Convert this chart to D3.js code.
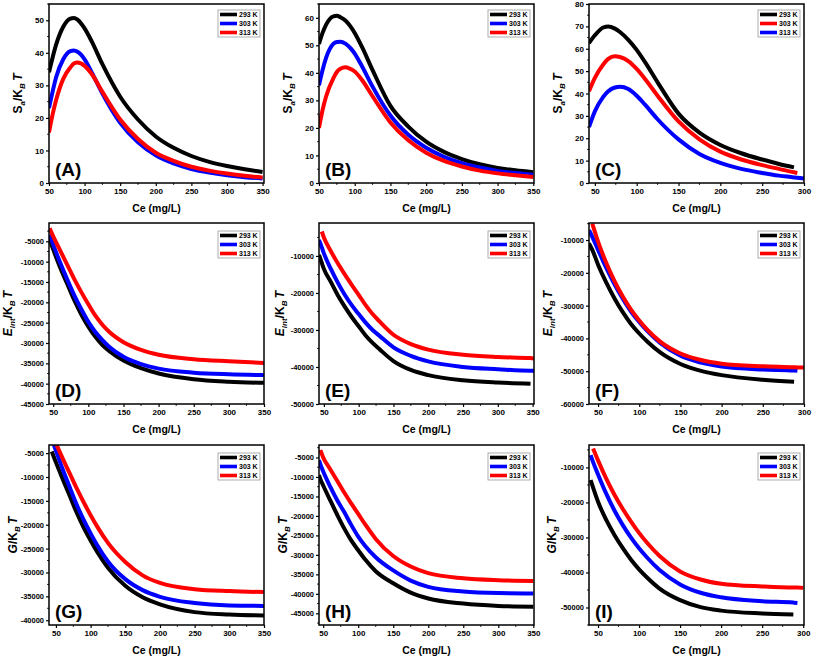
<!DOCTYPE html>
<html><head><meta charset="utf-8">
<script src="https://cdn.jsdelivr.net/npm/d3@7"></script>
<style>
body{margin:0;background:#fff;}
svg{display:block;font-family:"Liberation Sans",Arial,sans-serif;}
</style></head><body>
<svg id="chart" width="813" height="657"></svg>
<script>
// ---------------- DATA ----------------
const tempLabels = ["293 K", "303 K", "313 K"];

// Panel A  (S_a/K_BT)
const ceA = [50,55,60,70,80,85,90,100,110,125,150,175,200,225,250,275,300,325,350];
const A_293 = [34,38.5,42.5,48,50.5,50.7,50.2,47.5,43.5,36.5,26.5,19.5,14.3,10.8,8.3,6.5,5.2,4.2,3.4];
const A_303 = [23,28,32.5,38,40.5,40.7,40.3,38,34,27.5,18.5,12.5,8.5,6,4.3,3.2,2.4,1.8,1.4];
const A_313 = [15.5,21,25.5,32,35.5,36.7,37,36,33.5,28,19.5,13.5,9.3,6.8,5,3.8,2.9,2.2,1.7];

// Panel B
const ceB = [50,55,60,70,75,80,87,95,100,110,125,150,175,200,225,250,275,300,325,350];
const B_293 = [50.5,54.5,57.5,60.5,60.7,60.2,59,56.5,54.5,49.5,41,28,20.5,15,11.3,8.7,6.8,5.5,4.6,3.9];
const B_303 = [35.5,41,45.5,50.5,51.2,51.3,50.6,48.7,47,42.5,35,24.5,17.5,12.8,9.5,7.2,5.6,4.4,3.6,3];
const B_313 = [20,26.5,31.5,38,40.3,41.5,42,41.3,40.5,37.5,31.5,22,15.5,11,8,6,4.5,3.5,2.8,2.2];

// Panel C
const ceC = [43,50,60,66,74,80,90,100,110,125,150,175,200,225,250,270,288,292,300];
const C_293 = [62.5,66,69.5,70,69,67.5,64,59.5,54,45,31,22.5,17,13.3,10.5,8.5,7,null,null];
const C_303 = [41,47,53,55.5,56.7,56.3,54.5,51,46.5,39,27.5,19.5,14,10.5,8,6.3,4.8,4.5,null];
const C_313 = [25,32,38.5,41,42.7,43,42,39,35,28.5,19.5,13,9,6.3,4.5,3.3,2.5,2.3,2.0];

// Panel D  (E_int/K_BT)
const ceD = [45,50,60,70,80,90,100,110,120,130,150,175,200,250,300,350];
const D_293 = [-4500,-7000,-11500,-15500,-19500,-23000,-26000,-28500,-30500,-32000,-34300,-36200,-37500,-38900,-39500,-39800];
const D_303 = [-3300,-5800,-10300,-14400,-18300,-21700,-24800,-27300,-29300,-31000,-33400,-35200,-36300,-37300,-37700,-37900];
const D_313 = [-1800,-3800,-7300,-10800,-14300,-17500,-20500,-23300,-25500,-27300,-29800,-31700,-32900,-34000,-34500,-34900];

// Panel E
const ceE = [43,47,50,60,70,80,90,100,110,120,130,150,175,200,250,300,347,352];
const E_293 = [-9700,-11900,-13500,-17000,-20600,-23700,-26500,-29000,-31500,-33500,-35200,-38400,-40800,-42200,-43600,-44200,-44500,null];
const E_303 = [-5700,-7700,-9300,-13500,-17200,-20500,-23300,-25700,-28000,-30000,-31600,-34700,-37000,-38500,-40000,-40600,-41000,-41000];
const E_313 = [null,-3400,-5000,-8700,-12000,-15000,-17800,-20500,-23300,-25700,-27700,-31300,-33800,-35300,-36700,-37300,-37600,-37700];

// Panel F
const ceF = [39,43,50,60,70,80,90,100,110,125,150,175,200,250,288,292,300];
const F_293 = [-11000,-13000,-17500,-23000,-27800,-32000,-35600,-38500,-41000,-44200,-47800,-49900,-51200,-52600,-53200,null,null];
const F_303 = [-7000,-9000,-13000,-18500,-23500,-27900,-31800,-35000,-37800,-41300,-45300,-47400,-48600,-49500,-49800,-49900,null];
const F_313 = [null,-5000,-10500,-17000,-22500,-27200,-31200,-34500,-37400,-40900,-44600,-46600,-47700,-48500,-48800,-48850,-48900];

// Panel G  (G/K_BT)
const ceG = [44,47,51,60,70,80,90,100,110,125,150,175,200,250,300,350];
const G_293 = [-4650,-5800,-7300,-10500,-14000,-17500,-20600,-23300,-25800,-29000,-32800,-35200,-36700,-38300,-38800,-39000];
const G_303 = [null,-3300,-4900,-8500,-12200,-15800,-19000,-21800,-24400,-27700,-31400,-33700,-35100,-36400,-36900,-37000];
const G_313 = [null,null,-3300,-6200,-9300,-12400,-15300,-18000,-20500,-23800,-27800,-30600,-32200,-33500,-33900,-34100];

// Panel H
const ceH = [44,46,50,60,70,80,90,100,110,125,150,175,200,250,300,350];
const H_293 = [-9500,-10600,-12200,-16000,-19700,-23200,-26300,-28800,-31200,-34200,-37300,-39700,-41200,-42500,-43100,-43300];
const H_303 = [-5700,-6800,-8600,-12500,-16000,-19000,-22300,-25300,-27700,-30600,-34000,-36600,-38200,-39400,-39800,-39900];
const H_313 = [null,-3100,-5000,-8000,-11000,-14000,-16800,-19500,-22200,-25900,-30300,-33000,-34700,-36000,-36500,-36700];

// Panel I
const ceI = [41,44,50,60,70,80,90,100,110,125,150,175,200,250,288,293,300];
const I_293 = [-13600,-15800,-19800,-25000,-29300,-33000,-36300,-39100,-41500,-44600,-47900,-49900,-50900,-51700,-52000,null,null];
const I_303 = [-6500,-8500,-12000,-17500,-22300,-26400,-30000,-33100,-35800,-39300,-43400,-45800,-47100,-48200,-48600,-48700,null];
const I_313 = [null,-4600,-8000,-13200,-17800,-21800,-25400,-28700,-31600,-35300,-39700,-42000,-43200,-44000,-44300,-44300,-44400];

// Axis tick values
const xTicks350 = [50,100,150,200,250,300,350];
const xTicks300 = [50,100,150,200,250,300];
const yTicksA = [0,10,20,30,40,50];
const yTicksB = [0,10,20,30,40,50,60];
const yTicksC = [0,10,20,30,40,50,60,70,80];
const yTicksD = [-45000,-40000,-35000,-30000,-25000,-20000,-15000,-10000,-5000];
const yTicksE = [-50000,-40000,-30000,-20000,-10000];
const yTicksF = [-60000,-50000,-40000,-30000,-20000,-10000];
const yTicksG = [-40000,-35000,-30000,-25000,-20000,-15000,-10000,-5000];
const yTicksH = [-45000,-40000,-35000,-30000,-25000,-20000,-15000,-10000,-5000];
const yTicksI = [-50000,-40000,-30000,-20000,-10000];

// ---------------- LAYOUT ----------------
const BLACK = "#000000", BLUE = "#0000ff", RED = "#ff0000";
const colsX = [[49,264],[319,534],[589,804]];
const rowsY = [[4,183],[223,404],[445,625]];

const panels = [
  {tag:"(A)", ce:ceA, ys:[A_293,A_303,A_313], colors:[BLACK,BLUE,RED], xd:[50,352], yd:[0,55], xt:xTicks350, xm:25, yt:yTicksA, ym:5, ylab:"S", col:0, row:0, ylx:27},
  {tag:"(B)", ce:ceB, ys:[B_293,B_303,B_313], colors:[BLACK,BLUE,RED], xd:[50,351], yd:[0,65], xt:xTicks350, xm:25, yt:yTicksB, ym:5, ylab:"S", col:1, row:0, ylx:27},
  {tag:"(C)", ce:ceC, ys:[C_293,C_303,C_313], colors:[BLACK,RED,BLUE], xd:[43,300], yd:[0,80], xt:xTicks300, xm:25, yt:yTicksC, ym:5, ylab:"S", col:2, row:0, ylx:27},
  {tag:"(D)", ce:ceD, ys:[D_293,D_303,D_313], colors:[BLACK,BLUE,RED], xd:[44,350], yd:[-45000,-500], xt:xTicks350, xm:25, yt:yTicksD, ym:2500, ylab:"E", col:0, row:1, ylx:37},
  {tag:"(E)", ce:ceE, ys:[E_293,E_303,E_313], colors:[BLACK,BLUE,RED], xd:[43,352], yd:[-50000,-1100], xt:xTicks350, xm:25, yt:yTicksE, ym:5000, ylab:"E", col:1, row:1, ylx:35},
  {tag:"(F)", ce:ceF, ys:[F_293,F_303,F_313], colors:[BLACK,BLUE,RED], xd:[39,300], yd:[-60000,-4800], xt:xTicks300, xm:25, yt:yTicksF, ym:5000, ylab:"E", col:2, row:1, ylx:37},
  {tag:"(G)", ce:ceG, ys:[G_293,G_303,G_313], colors:[BLACK,BLUE,RED], xd:[40,350], yd:[-41000,-3300], xt:xTicks350, xm:25, yt:yTicksG, ym:2500, ylab:"G", col:0, row:2, ylx:32},
  {tag:"(H)", ce:ceH, ys:[H_293,H_303,H_313], colors:[BLACK,BLUE,RED], xd:[44,351], yd:[-48000,-1800], xt:xTicks350, xm:25, yt:yTicksH, ym:2500, ylab:"G", col:1, row:2, ylx:32},
  {tag:"(I)", ce:ceI, ys:[I_293,I_303,I_313], colors:[BLACK,BLUE,RED], xd:[39,301], yd:[-55000,-3600], xt:xTicks300, xm:25, yt:yTicksI, ym:5000, ylab:"G", col:2, row:2, ylx:33}
];

const svg = d3.select("#chart");

function range(a,b,s){const r=[];for(let v=a;v<=b+1e-9;v+=s)r.push(+v.toFixed(6));return r;}

panels.forEach((p,pi)=>{
  const [x0,x1] = colsX[p.col];
  const [y0,y1] = rowsY[p.row];
  const xs = d3.scaleLinear().domain(p.xd).range([x0,x1]);
  const ys = d3.scaleLinear().domain(p.yd).range([y1,y0]);
  const g = svg.append("g");

  const cid = "clip"+pi;
  svg.append("clipPath").attr("id",cid).append("rect")
     .attr("x",x0).attr("y",y0).attr("width",x1-x0).attr("height",y1-y0);

  // lines
  const line = d3.line().defined(d=>d[1]!=null)
     .x(d=>xs(d[0])).y(d=>ys(d[1])).curve(d3.curveMonotoneX);
  const lg = g.append("g").attr("clip-path",`url(#${cid})`);
  p.ys.forEach((arr,i)=>{
    const pts = p.ce.map((c,k)=>[c,arr[k]]).filter(d=>d[1]!=null);
    lg.append("path").attr("d",line(pts)).attr("fill","none")
      .attr("stroke",p.colors[i]).attr("stroke-width",4)
      .attr("stroke-linejoin","round").attr("stroke-linecap","butt");
  });

  // x axis
  const xMinor = range(Math.ceil(p.xd[0]/p.xm)*p.xm, p.xd[1], p.xm).filter(v=>!p.xt.includes(v));
  const xa = d3.axisBottom(xs).tickValues(p.xt).tickSize(3).tickPadding(2).tickFormat(d=>String(d));
  const xg = g.append("g").attr("transform",`translate(0,${y1})`).call(xa);
  xg.select(".domain").remove();
  xg.selectAll("line").attr("stroke","#000").attr("stroke-width",1.2);
  xg.selectAll("text").attr("font-size",8).attr("font-weight","bold").attr("fill","#000");
  g.append("g").selectAll("line").data(xMinor).join("line")
    .attr("x1",d=>xs(d)).attr("x2",d=>xs(d)).attr("y1",y1).attr("y2",y1+1.8)
    .attr("stroke","#000").attr("stroke-width",1);

  // y axis
  const yMinor = range(Math.ceil(p.yd[0]/p.ym)*p.ym, p.yd[1], p.ym).filter(v=>!p.yt.includes(v));
  const ya = d3.axisLeft(ys).tickValues(p.yt).tickSize(3).tickPadding(2).tickFormat(d=>String(d));
  const yg = g.append("g").attr("transform",`translate(${x0},0)`).call(ya);
  yg.select(".domain").remove();
  yg.selectAll("line").attr("stroke","#000").attr("stroke-width",1.2);
  yg.selectAll("text").attr("font-size", p.row===0?8:7.5).attr("font-weight","bold").attr("fill","#000");
  g.append("g").selectAll("line").data(yMinor).join("line")
    .attr("y1",d=>ys(d)).attr("y2",d=>ys(d)).attr("x1",x0).attr("x2",x0-1.8)
    .attr("stroke","#000").attr("stroke-width",1);

  // frame
  g.append("rect").attr("x",x0).attr("y",y0).attr("width",x1-x0).attr("height",y1-y0)
    .attr("fill","none").attr("stroke","#000").attr("stroke-width",1.5);

  // x title
  g.append("text").attr("x",(x0+x1)/2).attr("y",y1+29).attr("text-anchor","middle")
    .attr("font-size",10.5).attr("font-weight","bold").text("Ce (mg/L)");

  // y title
  const yt = g.append("text")
    .attr("transform",`translate(${x0-p.ylx},${(y0+y1)/2}) rotate(-90)`)
    .attr("text-anchor","middle").attr("font-size",12).attr("font-weight","bold");
  if(p.ylab==="S"){
    yt.append("tspan").text("S");
    yt.append("tspan").attr("font-size",8).attr("font-style","italic").attr("dy",3).text("a");
    yt.append("tspan").attr("dy",-3).text("/K");
    yt.append("tspan").attr("font-size",8).attr("font-style","italic").attr("dy",3).text("B");
    yt.append("tspan").attr("dy",-3).attr("font-style","italic").text("\u2009T");
  } else if(p.ylab==="E"){
    yt.append("tspan").attr("font-style","italic").text("E");
    yt.append("tspan").attr("font-size",8).attr("font-style","italic").attr("dy",3).text("int");
    yt.append("tspan").attr("dy",-3).text("/K");
    yt.append("tspan").attr("font-size",8).attr("font-style","italic").attr("dy",3).text("B");
    yt.append("tspan").attr("dy",-3).attr("font-style","italic").text("\u2009T");
  } else {
    yt.append("tspan").attr("font-style","italic").text("G");
    yt.append("tspan").text("/K");
    yt.append("tspan").attr("font-size",8).attr("font-style","italic").attr("dy",3).text("B");
    yt.append("tspan").attr("dy",-3).attr("font-style","italic").text("\u2009T");
  }

  // panel tag
  g.append("text").attr("x",x0+6).attr("y",y1-7).attr("font-size",19)
    .attr("font-weight","bold").text(p.tag);

  // legend
  const lx0 = x1-46, ly0 = y0+(p.row===0?6:8);
  g.append("rect").attr("x",lx0).attr("y",ly0).attr("width",42).attr("height",27)
    .attr("fill","#fff").attr("stroke","#999").attr("stroke-width",0.8);
  tempLabels.forEach((t,i)=>{
    const yy = ly0+4.5+i*9;
    g.append("line").attr("x1",lx0+2).attr("x2",lx0+19).attr("y1",yy).attr("y2",yy)
      .attr("stroke",p.colors[i]).attr("stroke-width",3.6);
    g.append("text").attr("x",lx0+21).attr("y",yy+2.5).attr("font-size",7)
      .attr("font-weight","bold").text(t);
  });
});
</script>
</body></html>
